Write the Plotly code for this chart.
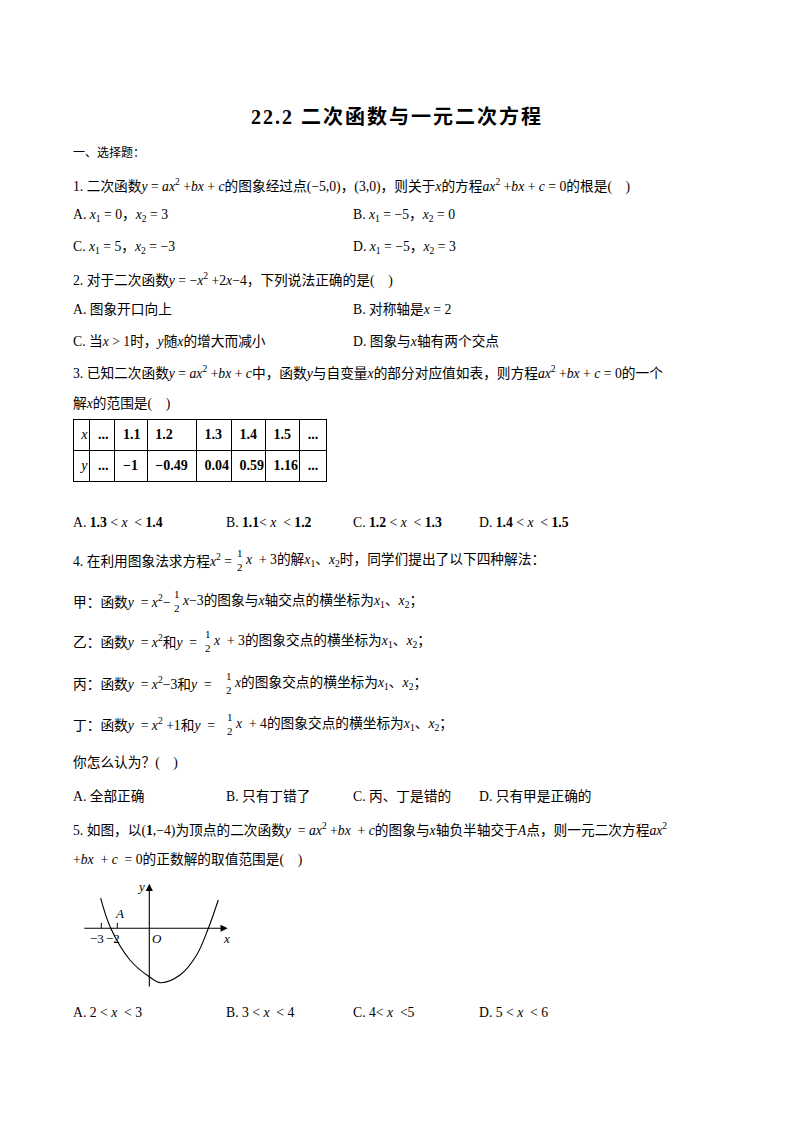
import plotly.graph_objects as go

W, H = 794, 1123

# ---------------- data ----------------
title = "22.2 二次函数与一元二次方程"
section = "一、选择题："

q1 = ("1. 二次函数<i>y</i> = <i>ax</i><sup>2</sup> +<i>bx</i> + <i>c</i>的图象经过点(−5,0)，(3,0)，"
      "则关于<i>x</i>的方程<i>ax</i><sup>2</sup> +<i>bx</i> + <i>c</i> = 0的根是(　)")
q1_opts = ["A. <i>x</i><sub>1</sub> = 0，<i>x</i><sub>2</sub> = 3",
           "B. <i>x</i><sub>1</sub> = −5，<i>x</i><sub>2</sub> = 0",
           "C. <i>x</i><sub>1</sub> = 5，<i>x</i><sub>2</sub> = −3",
           "D. <i>x</i><sub>1</sub> = −5，<i>x</i><sub>2</sub> = 3"]

q2 = "2. 对于二次函数<i>y</i> = −<i>x</i><sup>2</sup> +2<i>x</i>−4，下列说法正确的是(　)"
q2_opts = ["A. 图象开口向上",
           "B. 对称轴是<i>x</i> = 2",
           "C. 当<i>x</i> > 1时，<i>y</i>随<i>x</i>的增大而减小",
           "D. 图象与<i>x</i>轴有两个交点"]

q3 = ["3. 已知二次函数<i>y</i> = <i>ax</i><sup>2</sup> +<i>bx</i> + <i>c</i>中，函数<i>y</i>与自变量<i>x</i>的部分对应值如表，"
      "则方程<i>ax</i><sup>2</sup> +<i>bx</i> + <i>c</i> = 0的一个",
      "解<i>x</i>的范围是(　)"]
table_x = ["1.1", "1.2", "1.3", "1.4", "1.5"]
table_y = ["−1", "−0.49", "0.04", "0.59", "1.16"]
q3_opts = ["A. <b>1.3</b> < <i>x</i>  < <b>1.4</b>",
           "B. <b>1.1</b>< <i>x</i>  < <b>1.2</b>",
           "C. <b>1.2</b> < <i>x</i>  < <b>1.3</b>",
           "D. <b>1.4</b> < <i>x</i>  < <b>1.5</b>"]

# lines of question 4: (text before the 1/2, text after it)
q4_lines = [
    ("4. 在利用图象法求方程<i>x</i><sup>2</sup> =",
     "<i>x</i>  + 3的解<i>x</i><sub>1</sub>、<i>x</i><sub>2</sub>时，同学们提出了以下四种解法："),
    ("甲：函数<i>y</i>  = <i>x</i><sup>2</sup>−",
     "<i>x</i>−3的图象与<i>x</i>轴交点的横坐标为<i>x</i><sub>1</sub>、<i>x</i><sub>2</sub>；"),
    ("乙：函数<i>y</i>  = <i>x</i><sup>2</sup>和<i>y</i>  =",
     "<i>x</i>  + 3的图象交点的横坐标为<i>x</i><sub>1</sub>、<i>x</i><sub>2</sub>；"),
    ("丙：函数<i>y</i>  = <i>x</i><sup>2</sup>−3和<i>y</i>  =",
     "<i>x</i>的图象交点的横坐标为<i>x</i><sub>1</sub>、<i>x</i><sub>2</sub>；"),
    ("丁：函数<i>y</i>  = <i>x</i><sup>2</sup> +1和<i>y</i>  =",
     "<i>x</i>  + 4的图象交点的横坐标为<i>x</i><sub>1</sub>、<i>x</i><sub>2</sub>；"),
]
q4_ask = "你怎么认为？(　)"
q4_opts = ["A. 全部正确", "B. 只有丁错了", "C. 丙、丁是错的", "D. 只有甲是正确的"]

q5 = ["5. 如图，以(<b>1</b>,−4)为顶点的二次函数<i>y</i>  = <i>ax</i><sup>2</sup> +<i>bx</i>  + <i>c</i>的图象与<i>x</i>轴负半轴交于<i>A</i>点，"
      "则一元二次方程<i>ax</i><sup>2</sup>",
      "+<i>bx</i>  + <i>c</i>  = 0的正数解的取值范围是(　)"]
q5_opts = ["A. 2 < <i>x</i>  < 3", "B. 3 < <i>x</i>  < 4",
           "C. 4< <i>x</i>  <5", "D. 5 < <i>x</i>  < 6"]

# sketch of the parabola (units)
curve_x = [-3.04, -2.41, -1.21, 0.0, 0.7, 1.92, 2.96, 3.69, 4.31]
curve_y = [1.88, 0.0, -1.98, -3.03, -3.4, -2.92, -1.67, 0.0, 1.77]
tick_vals = [-3, -2]
tick_text = ["−3", "−2"]

# ---------------- layout helpers ----------------
FONT = "Liberation Serif, Noto Sans CJK SC"
SIZE = 13.7
OFF = 8  # the page body adds an 8px margin
annos = []


def px(x):
    return (x - OFF) / W


def py(y):
    return 1 - (y - OFF) / H


def text(t, x, y, size=SIZE, anchor="left"):
    annos.append(dict(text=t, x=px(x), y=py(y), xref="paper", yref="paper",
                      xanchor=anchor, yanchor="middle", showarrow=False,
                      borderpad=0, font=dict(family=FONT, size=size, color="black")))


def half(x, y):
    text("1<br>2", x, y, size=11, anchor="center")


# title
text('<b><span style="letter-spacing:2px">' + title + '</span></b>', 397, 117, size=20, anchor="center")
text(section, 72, 153, size=12)

# question 1
text(q1, 72, 185)
text(q1_opts[0], 72, 216)
text(q1_opts[1], 352, 216)
text(q1_opts[2], 72, 247)
text(q1_opts[3], 352, 247)

# question 2
text(q2, 72, 279)
text(q2_opts[0], 72, 310)
text(q2_opts[1], 352, 310)
text(q2_opts[2], 72, 341)
text(q2_opts[3], 352, 341)

# question 3
text(q3[0], 72, 372)
text(q3[1], 72, 404)
for t, x in zip(q3_opts, [72, 225, 352, 478]):
    text(t, x, 522)

# question 4
frac_x = [240, 177, 208, 229, 230]
line_y = [560, 601, 641, 683, 724]
for (before, after), fx, ly in zip(q4_lines, frac_x, line_y):
    text(before, 72, ly)
    half(fx, ly)
    text(after, fx + 4, ly)
text(q4_ask, 72, 763)
for t, x in zip(q4_opts, [72, 225, 352, 478]):
    text(t, x, 796)

# question 5
text(q5[0], 72, 829)
text(q5[1], 72, 860)
for t, x in zip(q5_opts, [72, 225, 352, 478]):
    text(t, x, 1012)

fig = go.Figure()

# value table
col_w = [16.7, 25, 32.3, 49.4, 35, 34, 34.3, 26.7]
head = ["<i>x</i>", "<b>...</b>"] + ["<b>" + v + "</b>" for v in table_x] + ["<b>...</b>"]
body = [["<i>y</i>"], ["<b>...</b>"]] + [["<b>" + v + "</b>"] for v in table_y] + [["<b>...</b>"]]
fig.add_trace(go.Table(
    domain=dict(x=[px(73.3), px(326.7)], y=[py(495), py(419)]),
    columnwidth=col_w,
    header=dict(values=head, height=28, align="left", fill_color="white",
                line=dict(color="black", width=1),
                font=dict(family=FONT, size=14, color="black")),
    cells=dict(values=body, height=28, align="left", fill_color="white",
               line=dict(color="black", width=1),
               font=dict(family=FONT, size=14, color="black")),
))

# parabola sketch: origin at (149.3, 928.3) px, 16 px per unit
ox, oy, unit = 149.3, 928.3, 16
gx0, gx1, gy0, gy1 = 78, 236, 878, 994
fig.add_trace(go.Scatter(x=curve_x, y=curve_y, mode="lines", line_shape="spline",
                         line=dict(color="black", width=1.1), hoverinfo="skip"))
tx, ty = [], []
for v in tick_vals:
    tx += [v, v, None]
    ty += [0, 0.33, None]
fig.add_trace(go.Scatter(x=tx, y=ty, mode="lines", line=dict(color="black", width=1),
                         hoverinfo="skip"))

# axes with arrows
for (x0, y0, x1, y1) in [(-4.16, 0, 4.9, 0), (0, -3.73, 0, 2.78)]:
    annos.append(dict(x=x1, y=y1, ax=x0, ay=y0, xref="x", yref="y", axref="x", ayref="y",
                      text="", showarrow=True, arrowhead=2, arrowsize=1.3,
                      arrowwidth=1.1, arrowcolor="black"))


def glabel(t, x, y, anchor="center"):
    annos.append(dict(text=t, x=x, y=y, xref="x", yref="y", showarrow=False,
                      xanchor=anchor, yanchor="middle",
                      font=dict(family="Liberation Serif", size=13, color="black")))


for v, t in zip(tick_vals, tick_text):
    glabel(t, v + 0.3, -0.62, anchor="right")
glabel("<i>A</i>", -1.88, 0.9)
glabel("<i>O</i>", 0.45, -0.62)
glabel("<i>y</i>", -0.5, 2.6)
glabel("<i>x</i>", 4.85, -0.62)

fig.update_xaxes(domain=[px(gx0), px(gx1)], range=[(gx0 - ox) / unit, (gx1 - ox) / unit],
                 visible=False)
fig.update_yaxes(domain=[py(gy1), py(gy0)], range=[(oy - gy1) / unit, (oy - gy0) / unit],
                 visible=False)

fig.update_layout(width=W, height=H, autosize=False,
                  margin=dict(l=0, r=0, t=0, b=0),
                  paper_bgcolor="white", plot_bgcolor="white",
                  showlegend=False, annotations=annos)

fig.write_html("out.html")
